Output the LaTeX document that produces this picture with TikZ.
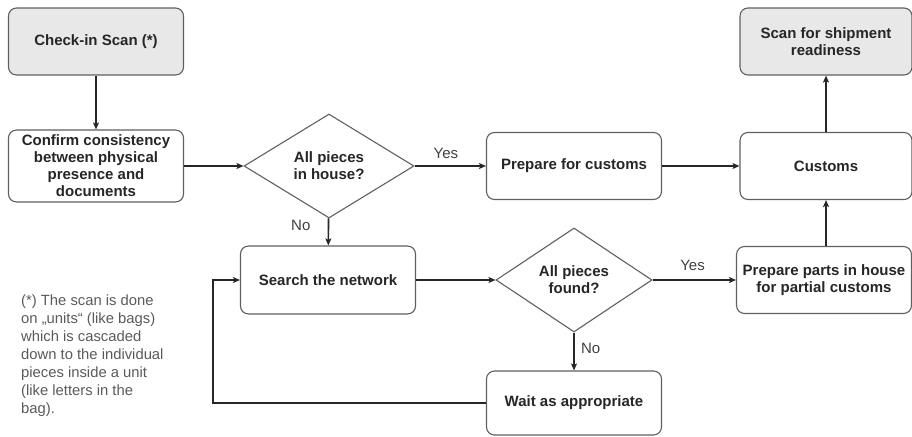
\documentclass[tikz,border=0pt]{standalone}
\usepackage{fontspec}
\setmainfont{Liberation Sans}
\usetikzlibrary{shapes.geometric,positioning,arrows.meta}
\definecolor{boxgrey}{HTML}{E8E8E8}
\definecolor{linegrey}{HTML}{606060}
\definecolor{notegrey}{HTML}{5A5A5A}

\begin{document}
\begin{tikzpicture}[x=1pt,y=-1pt,>={Stealth[length=7pt,width=6pt,inset=1.5pt]},
    task/.style={rectangle, rounded corners=8pt, draw=linegrey, line width=1.1pt,
            minimum width=175pt, minimum height=67pt, align=center, inner xsep=2pt,
            font=\fontsize{15}{17}\selectfont\bfseries, text=black!85},
    scan/.style={task, fill=boxgrey},
    test/.style={diamond, aspect=1.6, draw=linegrey, line width=1.1pt, inner sep=0pt,
            minimum width=170pt, minimum height=104pt, align=center,
            font=\fontsize{15}{17}\selectfont\bfseries, text=black!85},
    flow/.style={->, line width=1.6pt, draw=black!85},
    lbl/.style={font=\fontsize{15}{17}\selectfont, text=black!75}]
  \useasboundingbox (0,0) rectangle (912,436);

  \node[scan] (checkin) at (96,41.5) {Check-in Scan (*)};
  \node[task, minimum height=72pt, inner ysep=0pt] (confirm) at (96,166)
      {Confirm consistency\\between physical\\presence and\\documents};
  \node[test] (inhouse) at (329,166) {All pieces\\in house?};
  \node[task] (prepare) at (574,166) {Prepare for customs};
  \node[task, minimum width=172pt] (customs) at (826,166) {Customs};
  \node[scan, minimum width=172pt] (ready) at (826,41.5) {Scan for shipment\\readiness};
  \node[task, minimum height=68pt] (search) at (328,280) {Search the network};
  \node[test, minimum width=156pt] (found) at (574,280) {All pieces\\found?};
  \node[task] (partial) at (824,280) {Prepare parts in house\\for partial customs};
  \node[task, minimum height=64pt] (wait) at (574,403) {Wait as appropriate};
  \node[anchor=north west, align=left, inner sep=0pt, text=notegrey,
        font=\fontsize{14.8}{18}\selectfont] (note) at (21,295)
      {(*) The scan is done\\on „units“ (like bags)\\which is cascaded\\down to the individual\\pieces inside a unit\\(like letters in the\\bag).};
  \coordinate (bend) at (213,280);

  \draw[flow] (checkin) -- (confirm);
  \draw[flow] (confirm) -- (inhouse);
  \draw[flow] (inhouse) -- node[lbl, above=3pt, pos=.44] {Yes} (prepare);
  \draw[flow] (prepare) -- (customs);
  \draw[flow] (customs) -- (ready);
  \draw[flow] (inhouse) -- node[lbl, left=14pt, pos=.28] {No} (search);
  \draw[flow] (search) -- (found);
  \draw[flow] (found) -- node[lbl, above=5pt, pos=.48] {Yes} (partial);
  \draw[flow] (found) -- node[lbl, right=3pt, pos=.42] {No} (wait);
  \draw[flow] (partial.north -| customs) -- (customs);
  \draw[flow] (wait) -| (bend) -- (search);
\end{tikzpicture}
\end{document}
